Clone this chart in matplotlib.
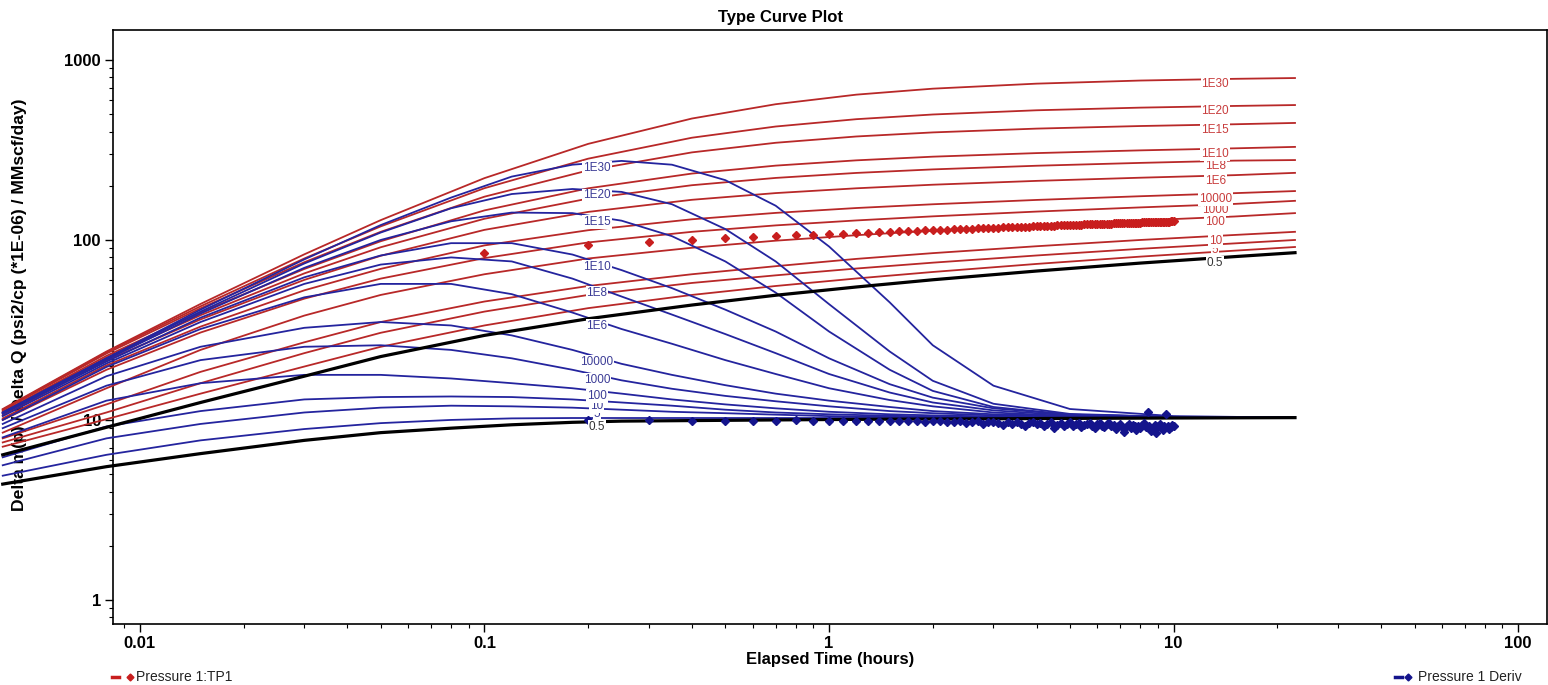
import numpy as np
import matplotlib
matplotlib.use("Agg")
import matplotlib.pyplot as plt
from matplotlib.lines import Line2D
from matplotlib.transforms import offset_copy
from matplotlib.ticker import LogLocator, NullFormatter, FixedLocator, FixedFormatter

plt.rcParams['font.family'] = ['Liberation Sans', 'DejaVu Sans']

# ---- type curves: Delta m(p)/Delta Q vs elapsed time (hours) ----
# sample times for pressure type curves
p_time = [0.004, 0.008, 0.015, 0.03, 0.05, 0.1, 0.2, 0.4, 0.7, 1.2, 2, 4, 8, 15, 22.5]
p_labels = ['1E30', '1E20', '1E15', '1E10', '1E8', '1E6', '10000', '1000', '100', '10', '5', '1', '0.5']
p_curves = [
    [11.5, 24.0, 44.1, 83.2, 128.9, 220.6, 342, 473, 568, 642, 693, 739, 769, 786, 794],
    [11.4, 23.8, 42.8, 78.9, 119.0, 194.0, 283, 370, 427, 469, 498, 525.6, 543.7, 555.6, 562],
    [11.3, 23.4, 41.7, 75.2, 111.0, 174.0, 243.6, 306.7, 346.8, 375.9, 396, 415.7, 429.7, 439.5, 447],
    [11.1, 22.7, 39.6, 69.0, 98.4, 146.0, 193.7, 233.9, 258.9, 277, 290.3, 303.9, 314.7, 323, 329],
    [10.9, 22.2, 38.2, 65.2, 91.1, 131.2, 169.8, 201.5, 221.2, 235.8, 246.7, 258.5, 268.1, 276, 278],
    [10.6, 21.4, 36.2, 60.0, 81.7, 113.8, 143.2, 167.2, 182.2, 193.7, 202.8, 213, 221.8, 229.2, 236],
    [10.2, 20.1, 33.0, 52.5, 69.1, 93.3, 113.3, 130.3, 141.4, 150.5, 157.9, 166.9, 175, 182, 187],
    [10.0, 19.0, 30.6, 47.2, 61.0, 79.3, 96.9, 111, 120.5, 128.4, 135.3, 143.8, 151.7, 158.6, 165],
    [8.5, 15.0, 24.5, 38.0, 49.5, 64.5, 78.9, 90.5, 99.1, 106.3, 112.6, 120.6, 128.3, 135, 141],
    [7.9, 12.2, 18.5, 27.0, 35.0, 45.5, 55.5, 64.5, 71.5, 78.5, 84.5, 92.3, 100, 106.6, 111],
    [7.5, 11.0, 16.0, 23.5, 30.5, 40.0, 49.5, 57.7, 63.6, 69.4, 74.8, 82, 89.3, 95.7, 100],
    [7.1, 10.1, 14.0, 19.8, 25.5, 33.5, 41.8, 49.5, 55.5, 61.1, 66.4, 73.6, 80.8, 87.2, 91.4],
    [6.4, 9.1, 12.5, 17.5, 22.5, 29.5, 36.5, 43.5, 49.3, 54.8, 60.1, 67.2, 74.4, 80.8, 85],
]

# sample times for derivative type curves
d_time = [0.004, 0.008, 0.015, 0.03, 0.05, 0.08, 0.12, 0.18, 0.25, 0.35, 0.5, 0.7, 1, 1.5, 2, 3, 5, 10, 22.5]
d_labels = ['1E30', '1E20', '1E15', '1E10', '1E8', '1E6', '10000', '1000', '100', '10', '5', '1', '0.5']
d_curves = [
    [11.0, 22.0, 41, 78, 121, 172, 225, 262, 275, 262, 215, 155, 92, 45, 26, 15.5, 11.5, 10.5, 10.3],
    [11.0, 22.0, 40, 74, 110, 150, 180, 192, 185, 158, 115, 76, 44, 24, 16.5, 12.3, 10.8, 10.4, 10.3],
    [10.9, 21.6, 39, 70, 100, 127, 142, 141, 128, 105, 76, 51, 31, 19, 14.5, 11.8, 10.7, 10.4, 10.3],
    [10.8, 21.1, 37, 62, 82, 96, 96, 83, 68, 54, 41, 31, 22, 15.8, 13.3, 11.6, 10.7, 10.4, 10.3],
    [10.5, 20.6, 35, 57, 73, 80, 76, 61, 48.5, 38.5, 30, 23.5, 18, 14.2, 12.5, 11.3, 10.6, 10.4, 10.3],
    [10.0, 19.7, 32, 48, 57, 57, 50, 39.5, 32, 26.5, 21.5, 18, 15, 12.9, 11.9, 11.0, 10.5, 10.35, 10.3],
    [9.5, 17.5, 25.5, 32.5, 35, 33.5, 29.5, 24.5, 20.5, 17.8, 15.6, 14, 12.8, 11.8, 11.2, 10.75, 10.5, 10.35, 10.3],
    [9.0, 15.5, 21.5, 25.5, 26, 24.5, 22, 19.0, 16.6, 14.9, 13.6, 12.7, 11.9, 11.2, 10.9, 10.6, 10.45, 10.35, 10.3],
    [8.0, 12.8, 16.0, 17.8, 17.8, 17.0, 16.0, 15.0, 14.0, 13.0, 12.2, 11.6, 11.1, 10.75, 10.6, 10.45, 10.4, 10.3, 10.3],
    [6.2, 9.2, 11.2, 13.0, 13.4, 13.5, 13.4, 13.0, 12.5, 12.0, 11.4, 11.0, 10.75, 10.55, 10.45, 10.4, 10.35, 10.3, 10.3],
    [5.6, 7.9, 9.5, 11, 11.7, 12, 11.9, 11.7, 11.4, 11.1, 10.9, 10.7, 10.5, 10.4, 10.35, 10.3, 10.3, 10.3, 10.3],
    [4.9, 6.4, 7.7, 8.9, 9.6, 10, 10.2, 10.25, 10.25, 10.25, 10.25, 10.25, 10.25, 10.25, 10.27, 10.3, 10.3, 10.3, 10.3],
    [4.4, 5.5, 6.5, 7.7, 8.5, 9.0, 9.4, 9.7, 9.85, 9.9, 9.95, 10.0, 10.05, 10.1, 10.12, 10.15, 10.2, 10.25, 10.3],
]

# ---- measured data (Pressure 1) ----
data_time = [0.1, 0.2, 0.3, 0.4, 0.5, 0.6, 0.7, 0.8, 0.9, 1.0,
             1.1, 1.2, 1.3, 1.4, 1.5, 1.6, 1.7, 1.8, 1.9, 2.0,
             2.1, 2.2, 2.3, 2.4, 2.5, 2.6, 2.7, 2.8, 2.9, 3.0,
             3.1, 3.2, 3.3, 3.4, 3.5, 3.6, 3.7, 3.8, 3.9, 4.0,
             4.1, 4.2, 4.3, 4.4, 4.5, 4.6, 4.7, 4.8, 4.9, 5.0,
             5.1, 5.2, 5.3, 5.4, 5.5, 5.6, 5.7, 5.8, 5.9, 6.0,
             6.1, 6.2, 6.3, 6.4, 6.5, 6.6, 6.7, 6.8, 6.9, 7.0,
             7.1, 7.2, 7.3, 7.4, 7.5, 7.6, 7.7, 7.8, 7.9, 8.0,
             8.1, 8.2, 8.3, 8.4, 8.5, 8.6, 8.7, 8.8, 8.9, 9.0,
             9.1, 9.2, 9.3, 9.4, 9.5, 9.6, 9.7, 9.8, 9.9, 10.0]
pressure_vals = [85.0, 93.5, 97.5, 100.0, 102.0, 103.5, 104.8, 105.9, 106.9, 107.8,
                 108.6, 109.3, 110.0, 110.6, 111.2, 111.7, 112.2, 112.7, 113.1, 113.5,
                 113.9, 114.3, 114.7, 115.0, 115.4, 115.7, 116.0, 116.3, 116.6, 116.9,
                 117.2, 117.4, 117.7, 117.9, 118.2, 118.4, 118.6, 118.8, 119.0, 119.3,
                 119.5, 119.7, 119.9, 120.0, 120.2, 120.4, 120.6, 120.8, 120.9, 121.1,
                 121.3, 121.4, 121.6, 121.7, 121.9, 122.0, 122.2, 122.3, 122.5, 122.6,
                 122.7, 122.9, 123.0, 123.1, 123.3, 123.4, 123.5, 123.6, 123.8, 123.9,
                 124.0, 124.1, 124.2, 124.3, 124.5, 124.6, 124.7, 124.8, 124.9, 125.0,
                 125.1, 125.2, 125.3, 125.4, 125.5, 125.6, 125.7, 125.8, 125.9, 126.0,
                 126.1, 126.2, 126.2, 126.3, 126.4, 126.5, 126.6, 126.7, 126.7, 126.8]
deriv_vals = [10.1, 10.0, 10.0, 9.9, 9.9, 9.9, 9.9, 9.95, 9.9, 9.9,
              9.9, 9.85, 9.9, 9.9, 9.85, 9.9, 9.85, 9.9, 9.8, 9.85,
              9.9, 9.8, 9.7, 9.85, 9.6, 9.75, 9.9, 9.5, 9.7, 9.8,
              9.6, 9.4, 9.7, 9.55, 9.8, 9.5, 9.3, 9.6, 9.75, 9.45,
              9.6, 9.2, 9.5, 9.7, 9.0, 9.4, 9.6, 9.3, 9.55, 9.7,
              9.2, 9.45, 9.6, 9.1, 9.35, 9.5, 9.65, 9.2, 9.0, 9.45,
              9.6, 9.3, 9.1, 9.5, 9.65, 9.2, 9.4, 8.9, 9.3, 9.5,
              9.1, 8.6, 9.3, 9.5, 9.0, 9.4, 9.2, 8.8, 9.3, 9.0,
              9.4, 9.6, 9.1, 11.0, 9.3, 8.7, 9.0, 9.4, 8.5, 9.2,
              9.5, 9.0, 8.8, 9.3, 10.8, 9.2, 8.9, 9.1, 9.4, 9.3]

red_label_time = 13.2
blue_label_time = 0.212

RED = '#b82828'
BLUE = '#24249e'
RED_TXT = '#c83c3c'
BLUE_TXT = '#3c3c96'


def interp_log(t, ts, vs):
    return 10 ** np.interp(np.log10(t), np.log10(ts), np.log10(vs))


fig = plt.figure(figsize=(15.48, 6.85), dpi=100)
ax = fig.add_axes([0.0728, 0.0891, 0.9264, 0.8671])

# pressure type curves
for lab, vals in zip(p_labels, p_curves):
    black = lab == '0.5'
    ax.plot(p_time, vals, color='black' if black else RED, lw=2.3 if black else 1.3,
            clip_on=False, zorder=4 if black else 3)

# derivative type curves
for lab, vals in zip(d_labels, d_curves):
    black = lab == '0.5'
    ax.plot(d_time, vals, color='black' if black else BLUE, lw=2.3 if black else 1.3,
            clip_on=False, zorder=4 if black else 3.2)

# measured data
ax.plot(data_time, pressure_vals, ls='none', marker='D', ms=4.5, color='#c81e1e',
        mec='#c81e1e', zorder=5)
ax.plot(data_time[1:], deriv_vals[1:], ls='none', marker='D', ms=4.5, color='#14148c',
        mec='#14148c', zorder=5)

# curve labels, sitting a little below their curves
lab_tr = offset_copy(ax.transData, fig=fig, x=0, y=-5, units='dots')
for lab, vals in reversed(list(zip(p_labels, p_curves))):
    if lab == '1':
        continue
    y = interp_log(red_label_time, p_time, vals)
    ax.text(red_label_time, y, lab, fontsize=8.5, ha='center', va='center',
            color='#333333' if lab == '0.5' else RED_TXT, zorder=6, transform=lab_tr,
            bbox=dict(facecolor='white', edgecolor='none', pad=0.6))
for lab, vals in reversed(list(zip(d_labels, d_curves))):
    if lab == '1':
        continue
    y = interp_log(blue_label_time, d_time, vals)
    ax.text(blue_label_time, y, lab, fontsize=8.5, ha='center', va='center',
            color='#333333' if lab == '0.5' else BLUE_TXT, zorder=6, transform=lab_tr,
            bbox=dict(facecolor='white', edgecolor='none', pad=0.6))

ax.set_xscale('log')
ax.set_yscale('log')
ax.set_xlim(0.00834, 121)
ax.set_ylim(0.735, 1468)

ax.xaxis.set_major_locator(FixedLocator([0.01, 0.1, 1, 10, 100]))
ax.xaxis.set_major_formatter(FixedFormatter(['0.01', '0.1', '1', '10', '100']))
ax.yaxis.set_major_locator(FixedLocator([1, 10, 100, 1000]))
ax.yaxis.set_major_formatter(FixedFormatter(['1', '10', '100', '1000']))
ax.xaxis.set_minor_locator(LogLocator(base=10, subs=np.arange(2, 10)))
ax.yaxis.set_minor_locator(LogLocator(base=10, subs=np.arange(2, 10)))
ax.xaxis.set_minor_formatter(NullFormatter())
ax.yaxis.set_minor_formatter(NullFormatter())
ax.tick_params(which='major', direction='out', length=6, width=1, labelsize=12, pad=2.5)
ax.tick_params(which='minor', direction='out', length=3, width=0.8)
for lbl in ax.get_xticklabels() + ax.get_yticklabels():
    lbl.set_fontweight('bold')
for sp in ax.spines.values():
    sp.set_linewidth(1.2)

fig.suptitle('Type Curve Plot', x=0.5045, y=0.975, va='center', fontsize=12, fontweight='bold')
ax.set_xlabel('Elapsed Time (hours)', fontsize=12, fontweight='bold', labelpad=1)
ax.set_ylabel('Delta m(p) / Delta Q (psi2/cp (*1E-06) / MMscf/day)', fontsize=12.6,
              fontweight='bold')
ax.yaxis.set_label_coords(-0.0653, 0.537)
ax.yaxis.label.set_va('center')

# legend entries at the bottom
fig.add_artist(Line2D([0.0726, 0.0770], [0.0117, 0.0117], color='#c81e1e', lw=2.5))
fig.add_artist(Line2D([0.0840], [0.0117], marker='D', ms=3.5, color='#c81e1e', ls='none'))
fig.text(0.0880, 0.0117, 'Pressure 1:TP1', fontsize=10, va='center', ha='left', color='#222222')
fig.add_artist(Line2D([0.9012, 0.9056], [0.0117, 0.0117], color='#14148c', lw=2.5))
fig.add_artist(Line2D([0.9097], [0.0117], marker='D', ms=3.5, color='#14148c', ls='none'))
fig.text(0.9160, 0.0117, 'Pressure 1 Deriv', fontsize=10, va='center', ha='left', color='#222222')

plt.savefig('out.png', dpi=100)
